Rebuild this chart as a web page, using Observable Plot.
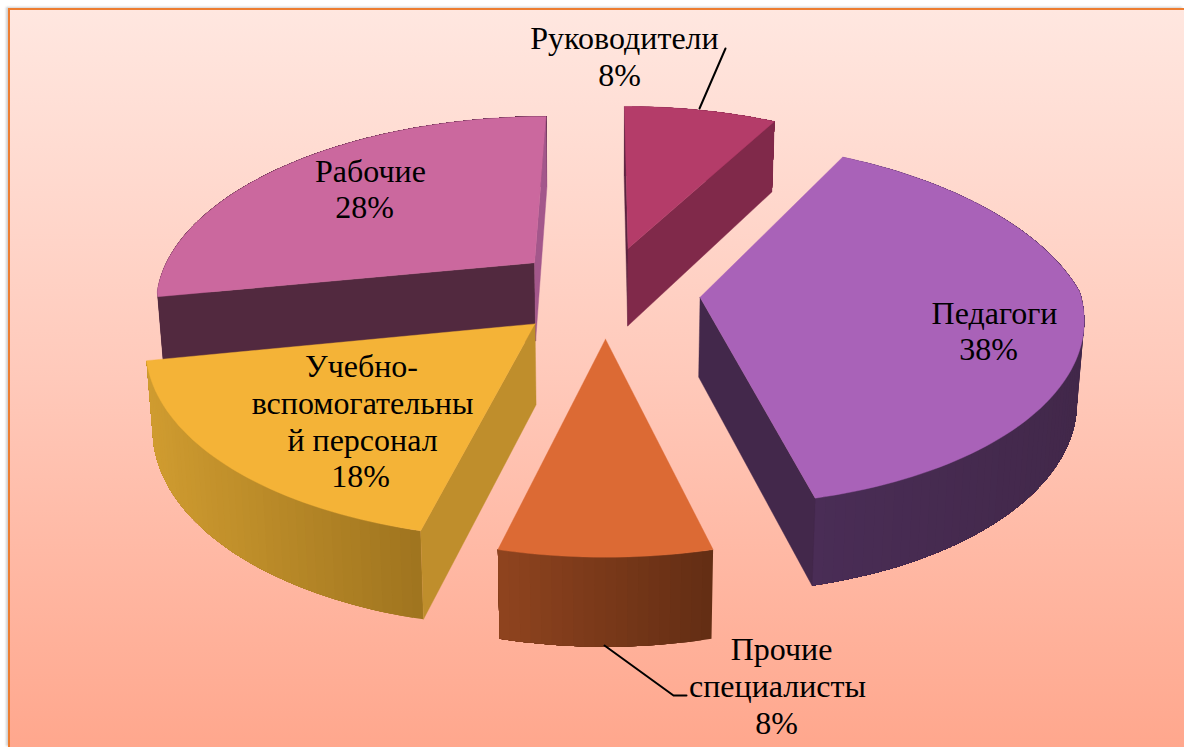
<!DOCTYPE html>
<html><head><meta charset="utf-8">
<script src="https://cdn.jsdelivr.net/npm/d3@7"></script>
<script src="https://cdn.jsdelivr.net/npm/@observablehq/plot@0.6"></script>
<style>
html,body{margin:0;padding:0;background:#fff;width:1184px;height:747px;overflow:hidden}
#panel{position:absolute;left:8px;top:8px;right:0;bottom:0;border-left:2px solid #ed7d31;border-top:2px solid #ed7d31;
background:linear-gradient(#ffe7e0 0%,#ffc9ba 50%,#ffa78d 100%);box-shadow:-2px -1px 2px rgba(120,120,120,.35)}
#chart{position:absolute;left:0;top:0}
</style></head><body><div id="panel"></div><div id="chart"></div>
<script>
const categories = ["Руководители","Педагоги","Прочие специалисты","Учебно-вспомогательный персонал","Рабочие"];
const shares = [8,38,8,18,28];
const topColors = ["#b43c69","#a962b8","#dc6a34","#f4b337","#cb689e"];
const startWallColors = ["#5a2440","#43284b","#6e3318","#bf8e2c","#52293f"];
const endWallColors = ["#80294a","#43284b","#6e3318","#bf8e2c","#a3578b"];
const rimFrom = ["#80294a","#4a2d56","#90441f","#d09c30","#52293f"];
const rimTo = ["#80294a","#42284a","#642e14","#a0751f","#52293f"];
const drawOrder = [4,0,1,2,3];
const labelLines = ["Руководители","8%","Педагоги","38%","Прочие","специалисты","8%","Учебно-","вспомогательны","й персонал","18%","Рабочие","28%"];

// layout of the 3D view
const cx=605, cy=291, B=380, A=186, explode=0.25, arcStep=1.5;
const depth = Y => 79.5-8*Y, squeeze=0.985;
const labelLayout = [[624,38],[619,75],[994,313],[988,349],[781,649],[777,686],[776,723],[361,366],[362,403],[362,440],[360,476],[370,171],[364,207]];
const leaders = [[[699,108],[725,48]],[[604,645],[673,695],[686,695]]];

const rad = d => d*Math.PI/180;
function project(X,Y,down){
  const d = Y>0 ? 1+0.2*Y : 1+0.1*Y;
  let x = B*X/d, y = -A*Y/d;
  if(down){ x*=squeeze; y+=depth(Y); }
  return [cx+x, cy+y];
}
const total = d3.sum(shares);
let acc = 0;
const slices = shares.map((v,i)=>{ const a0=acc/total*360; acc+=v; const a1=acc/total*360; return {i,a0,a1,m:(a0+a1)/2}; });

const rimRows=[], faceRows=[];
function face(rows,id,pts,color){ [...pts,pts[0]].forEach(p=>rows.push({id,x:p[0],y:p[1],color})); }
// order matters: each slice is painted rim, walls, top. Keep per-slice grouping via a running sequence.
const layers=[];
drawOrder.forEach(i=>{
  const s=slices[i];
  const ox=explode*Math.sin(rad(s.m)), oy=explode*Math.cos(rad(s.m));
  const P=(t,down)=>project(ox+Math.sin(rad(t)),oy+Math.cos(rad(t)),down);
  const O=down=>project(ox,oy,down);
  const n=Math.ceil((s.a1-s.a0)/arcStep);
  const ts=d3.range(n+1).map(k=>s.a0+(s.a1-s.a0)*k/n);
  const mix=d3.interpolateRgb(rimFrom[i],rimTo[i]);
  const xs=ts.map(t=>P(t,false)[0]), xlo=d3.min(xs), xhi=d3.max(xs);
  // each rim band reaches on to the end of the arc, so that the next one paints over it without seams
  const rim=[];
  ts.slice(0,-1).forEach((t,k)=>{
    const tail=ts.slice(k);
    const pts=[...tail.map(q=>P(q,false)),...tail.slice().reverse().map(q=>P(q,true))];
    face(rim,`rim${i}-${k}`,pts,d3.rgb(mix((P(t,false)[0]-xlo)/(xhi-xlo))).formatHex());
  });
  const faces=[];
  const mid=P(s.m,false);
  [[s.a0,startWallColors[i],"s"],[s.a1,endWallColors[i],"e"]].forEach(([t,col,tag])=>{
    const A0=O(false),E=P(t,false),A1=O(true),E1=P(t,true);
    const side=q=>(E[0]-A0[0])*(q[1]-A0[1])-(E[1]-A0[1])*(q[0]-A0[0]);
    const bm=[(A1[0]+E1[0])/2,(A1[1]+E1[1])/2];
    if(side(mid)*side(bm)<0) face(faces,`wall${i}${tag}`,[A0,E,E1,A1],col);
  });
  face(faces,`top${i}`,[O(false),...ts.map(t=>P(t,false))],topColors[i]);
  layers.push(Plot.line(rim,{x:"x",y:"y",z:"id",fill:"color",stroke:null,curve:"linear"}));
  layers.push(Plot.line(faces,{x:"x",y:"y",z:"id",fill:"color",stroke:"color",strokeWidth:0.4,curve:"linear"}));
});
const labels=labelLines.map((t,i)=>({t,x:labelLayout[i][0],y:labelLayout[i][1]}));
const leaderRows=leaders.flatMap((l,id)=>l.map(p=>({id,x:p[0],y:p[1]})));

const plot=Plot.plot({
  width:1184,height:747,margin:0,
  x:{domain:[0,1184],range:[0,1184],axis:null},
  y:{domain:[0,747],range:[0,747],axis:null},
  color:{type:"identity"},
  style:{background:"transparent",overflow:"visible"},
  marks:[
    ...layers,
    Plot.line(leaderRows,{x:"x",y:"y",z:"id",stroke:"#000",strokeWidth:2,curve:"linear"}),
    Plot.text(labels,{x:"x",y:"y",text:"t",fontSize:32,fontFamily:"Liberation Serif",fill:"#000",textAnchor:"middle"})
  ]
});
document.getElementById("chart").appendChild(plot);
</script></body></html>
